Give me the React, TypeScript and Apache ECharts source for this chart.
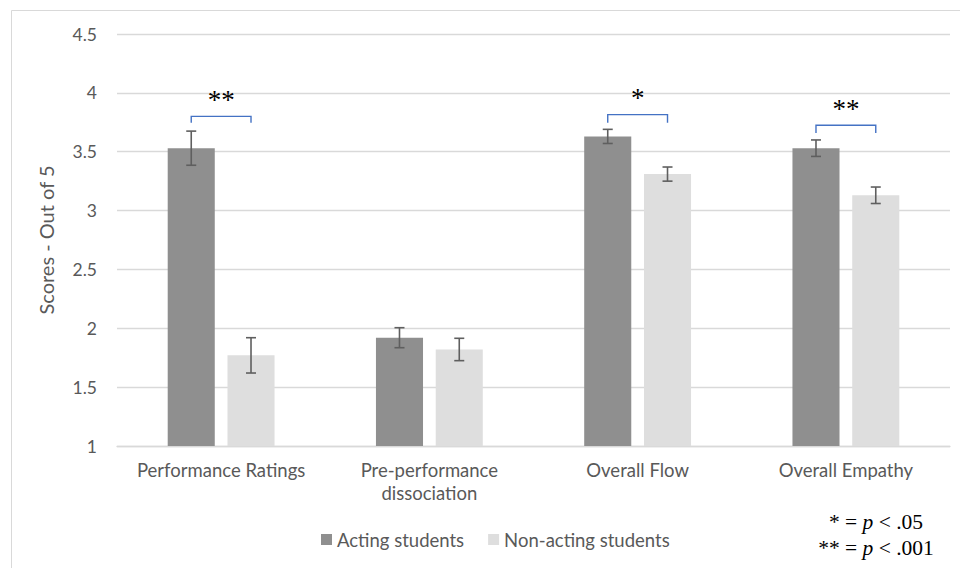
import React, { useEffect, useRef } from "react";
import * as echarts from "echarts";

// Group means (score out of 5) and their error-bar half widths
const categories = ["Performance Ratings", "Pre-performance\ndissociation", "Overall Flow", "Overall Empathy"];
const actingMeans = [3.53, 1.92, 3.63, 3.53];
const actingErr = [0.145, 0.085, 0.06, 0.07];
const nonActingMeans = [1.77, 1.82, 3.31, 3.13];
const nonActingErr = [0.15, 0.095, 0.06, 0.07];
const seriesNames = ["Acting students", "Non-acting students"];

// Significance brackets: category index, bracket top, leg bottom, marker
const bracketCategory = [0, 2, 3];
const bracketTop = [3.8, 3.815, 3.725];
const bracketLeg = [3.745, 3.745, 3.66];
const bracketMarks = ["**", "*", "**"];

const yTicks = { min: 1, max: 4.5, interval: 0.5 };

const FONT = "Lato, 'Open Sans', sans-serif";
const SERIF = "'Liberation Serif', 'DejaVu Serif', serif";
const BAR_W = 0.226; // bar width as a share of the category band
const BAR_GAP = 0.27;
const OFFSET = (BAR_W * (1 + BAR_GAP)) / 2;

function errorSeries(means: number[], errs: number[], sign: number) {
  return {
    type: "custom",
    silent: true,
    z: 5,
    encode: { x: 0, y: [1, 2] },
    data: means.map((m, i) => [i, m - errs[i], m + errs[i]]),
    renderItem: (params: any, api: any) => {
      const ci = api.value(0);
      const lo = api.coord([ci, api.value(1)]);
      const hi = api.coord([ci, api.value(2)]);
      const band = api.size([1, 0])[0];
      const x = lo[0] + sign * band * OFFSET;
      const cap = 5;
      const style = { stroke: "#5f5f5f", lineWidth: 1.6 };
      return {
        type: "group",
        children: [
          { type: "line", shape: { x1: x, y1: lo[1], x2: x, y2: hi[1] }, style },
          { type: "line", shape: { x1: x - cap, y1: lo[1], x2: x + cap, y2: lo[1] }, style },
          { type: "line", shape: { x1: x - cap, y1: hi[1], x2: x + cap, y2: hi[1] }, style },
        ],
      };
    },
  };
}

export default function App() {
  const ref = useRef<HTMLDivElement>(null);

  useEffect(() => {
    if (!ref.current) return;
    const chart = echarts.init(ref.current, undefined, { renderer: "svg" });

    const noteRich = { i: { fontFamily: SERIF, fontSize: 21.5, fontStyle: "italic", fill: "#000000" } };

    chart.setOption({
      animation: false,
      backgroundColor: "#ffffff",
      grid: { left: 117, right: 10, top: 34, bottom: 122 },
      legend: {
        bottom: 14,
        left: 316,
        itemWidth: 11,
        itemHeight: 11,
        itemGap: 24,
        icon: "rect",
        textStyle: { fontFamily: FONT, fontSize: 18.5, color: "#595959" },
        data: seriesNames,
      },
      xAxis: {
        type: "category",
        data: categories,
        axisTick: { show: false },
        axisLine: { lineStyle: { color: "#d9d9d9", width: 1.3 } },
        axisLabel: {
          interval: 0,
          fontFamily: FONT,
          fontSize: 18.5,
          color: "#595959",
          margin: 12,
          lineHeight: 23,
        },
      },
      yAxis: {
        type: "value",
        min: yTicks.min,
        max: yTicks.max,
        interval: yTicks.interval,
        name: "Scores - Out of 5",
        nameLocation: "middle",
        nameGap: 61,
        nameTextStyle: { fontFamily: FONT, fontSize: 20, color: "#595959" },
        axisLabel: { fontFamily: FONT, fontSize: 17.5, color: "#595959", margin: 20 },
        splitLine: { lineStyle: { color: "#d9d9d9", width: 1.3 } },
      },
      series: [
        {
          name: seriesNames[0],
          type: "bar",
          data: actingMeans,
          barWidth: `${BAR_W * 100}%`,
          barGap: `${BAR_GAP * 100}%`,
          itemStyle: { color: "#8f8f8f" },
        },
        {
          name: seriesNames[1],
          type: "bar",
          data: nonActingMeans,
          barWidth: `${BAR_W * 100}%`,
          barGap: `${BAR_GAP * 100}%`,
          itemStyle: { color: "#dedede" },
        },
        errorSeries(actingMeans, actingErr, -1),
        errorSeries(nonActingMeans, nonActingErr, 1),
        {
          type: "custom",
          silent: true,
          z: 6,
          encode: { x: 0, y: [1, 2] },
          data: bracketCategory.map((c, i) => [c, bracketTop[i], bracketLeg[i]]),
          renderItem: (params: any, api: any) => {
            const ci = api.value(0);
            const top = api.coord([ci, api.value(1)]);
            const leg = api.coord([ci, api.value(2)]);
            const band = api.size([1, 0])[0];
            const xl = top[0] - band * OFFSET;
            const xr = top[0] + band * OFFSET;
            return {
              type: "group",
              children: [
                {
                  type: "polyline",
                  shape: {
                    points: [
                      [xl, leg[1]],
                      [xl, top[1]],
                      [xr, top[1]],
                      [xr, leg[1]],
                    ],
                  },
                  style: { stroke: "#4472c4", lineWidth: 1.4, fill: "none" },
                },
                {
                  type: "text",
                  x: top[0],
                  y: top[1] - 3,
                  style: {
                    text: bracketMarks[params.dataIndex],
                    fontFamily: SERIF,
                    fontSize: 27,
                    fill: "#000000",
                    align: "center",
                    verticalAlign: "bottom",
                  },
                },
              ],
            };
          },
        },
      ],
      graphic: [
        {
          type: "rect",
          silent: true,
          z: -1,
          shape: { x: 11.5, y: 10.5, width: 960, height: 570 },
          style: { fill: "none", stroke: "#d9d9d9", lineWidth: 1 },
        },
        {
          type: "text",
          x: 876,
          y: 522,
          style: {
            text: "* = {i|p} < .05",
            fontFamily: SERIF,
            fontSize: 21.5,
            fill: "#000000",
            align: "center",
            verticalAlign: "middle",
            rich: noteRich,
          },
        },
        {
          type: "text",
          x: 876,
          y: 548,
          style: {
            text: "** = {i|p} < .001",
            fontFamily: SERIF,
            fontSize: 21.5,
            fill: "#000000",
            align: "center",
            verticalAlign: "middle",
            rich: noteRich,
          },
        },
      ],
    });

    return () => chart.dispose();
  }, []);

  return (
    <div
      ref={ref}
      style={{ position: "fixed", left: 0, top: 0, width: 960, height: 568, background: "#fff" }}
    />
  );
}
